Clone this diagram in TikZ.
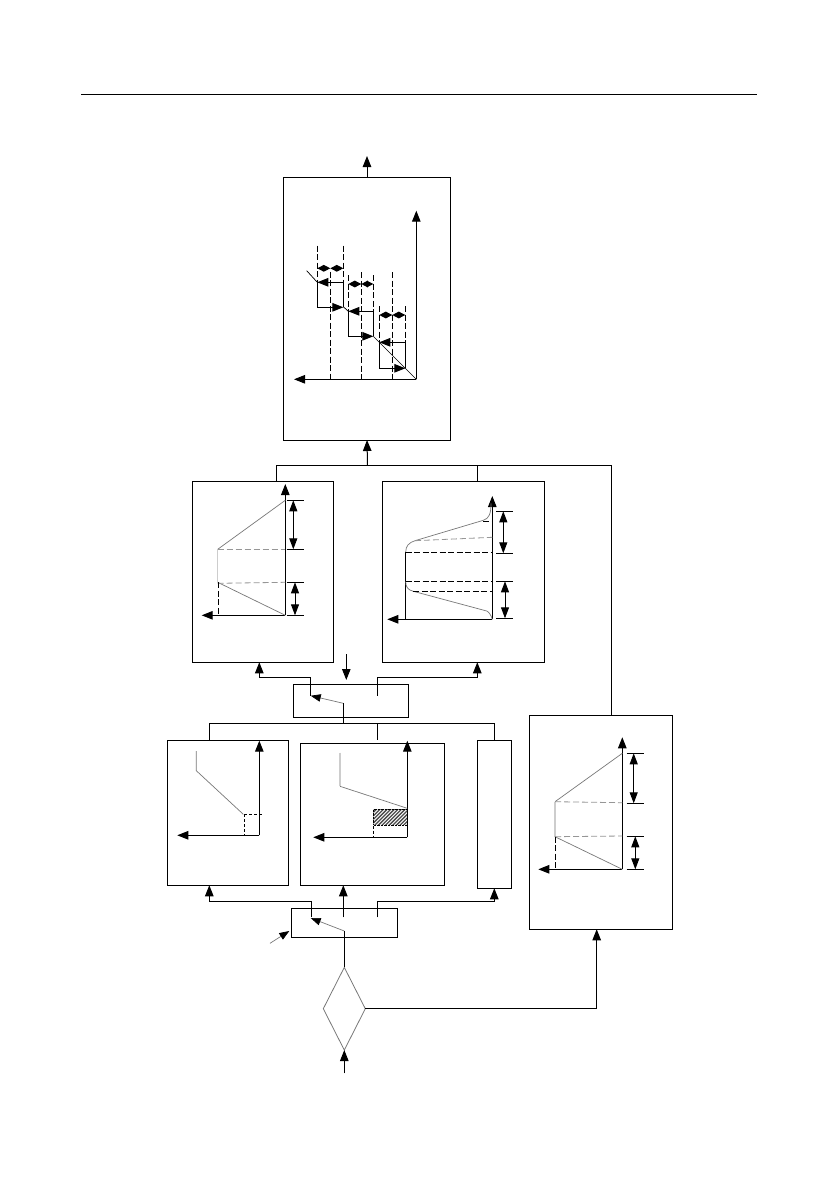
\documentclass[tikz,border=0pt]{standalone}
\usepackage{tikz}
\usetikzlibrary{shapes.geometric, arrows.meta}
\definecolor{linegray}{RGB}{120,120,120}
\definecolor{palegray}{RGB}{205,205,205}
\definecolor{dashgray}{RGB}{150,150,150}
\definecolor{hatchgray}{RGB}{75,75,75}
\tikzset{
  panelbox/.style={
    draw=black, fill=white, line width=1.0pt, rectangle,
    inner sep=0pt, outer sep=0pt, anchor=north west
  },
  gatebox/.style={
    draw=linegray, line width=0.8pt, diamond, aspect=0.5,
    inner sep=0pt, outer sep=0pt
  },
  flowarrow/.style={
    -{Triangle[length=11pt,width=8.5pt]},
    draw=black, line width=1.0pt
  },
  leverarrow/.style={
    -{Triangle[length=10pt,width=7.5pt,black]},
    draw=linegray, line width=0.7pt
  },
  dimarrow/.style={
    {Triangle[length=11pt,width=8pt]}-{Triangle[length=11pt,width=8pt]},
    draw=black, line width=1.0pt
  },
  stepdim/.style={
    {Triangle[length=6.5pt,width=6.5pt]}-{Triangle[length=6.5pt,width=6.5pt]},
    draw=black, line width=1.0pt
  },
  flowline/.style={draw=black, line width=1.0pt},
  curveline/.style={draw=linegray, line width=0.7pt},
  paleline/.style={draw=palegray, line width=1.1pt},
  guidedash/.style={draw=black, line width=0.9pt, dash pattern=on 6pt off 2.5pt},
  shortdash/.style={draw=black, line width=0.9pt, dash pattern=on 3pt off 2pt},
  fadedash/.style={draw=dashgray, line width=0.8pt, dash pattern=on 6pt off 3pt},
  tickline/.style={draw=black, line width=0.9pt},
}
\begin{document}
\begin{tikzpicture}[x=1pt, y=-1pt]

  \useasboundingbox (0,0) rectangle (839,1191);

  %% Page rule
  \coordinate (ruleL) at (81,94);
  \coordinate (ruleR) at (757,94);
  \draw[black, line width=1pt] (ruleL) -- (ruleR);

  %% Boxes
  \node[panelbox, minimum width=167pt, minimum height=262.5pt] (speedbox) at (283.5,177.5) {};
  \node[panelbox, minimum width=141pt, minimum height=181pt] (linbox) at (192.3,481.3) {};
  \node[panelbox, minimum width=162.4pt, minimum height=181pt] (scurvebox) at (382.3,481.3) {};
  \node[panelbox, minimum width=115.4pt, minimum height=33pt] (selupper) at (293.3,684.3) {};
  \node[panelbox, minimum width=121pt, minimum height=145pt] (rampbox) at (167.3,740.3) {};
  \node[panelbox, minimum width=144pt, minimum height=142pt] (hatchbox) at (300.3,743.3) {};
  \node[panelbox, minimum width=34pt, minimum height=148pt] (narrowbox) at (477.3,740.3) {};
  \node[panelbox, minimum width=106pt, minimum height=29pt] (sellower) at (291.3,908.3) {};
  \node[panelbox, minimum width=143.4pt, minimum height=214pt] (lateralbox) at (529.3,715.3) {};
  \node[gatebox, minimum width=42pt, minimum height=82.7pt] (gate) at (344.3,1008.7) {};

  %% Connectors at the top
  \coordinate (outtop) at (367,156);
  \coordinate (busmid) at (367.5,465.3);
  \coordinate (busL) at (276.7,465.3);
  \coordinate (busC) at (477.7,465.3);
  \coordinate (busR) at (611.3,465.3);
  \draw[flowarrow] (speedbox.north) -- (outtop);
  \draw[flowarrow] (busmid) -- (speedbox.south);
  \draw[flowline] (busL |- linbox.north) -- (busL) -- (busR) -- (busR |- lateralbox.north);
  \draw[flowline] (busC) -- (busC |- scurvebox.north);

  %% Upper selector
  \coordinate (cmdupper) at (346.3,654);
  \coordinate (cmdupperend) at (346.3,680);
  \coordinate (upL) at (310.7,695.7);
  \coordinate (upR) at (377.3,695.7);
  \coordinate (upLturn) at (310.7,677.3);
  \coordinate (upRturn) at (377.3,677.3);
  \coordinate (uptipL) at (259.3,677.3);
  \coordinate (uptipR) at (477.3,677.3);
  \coordinate (uppivot) at (343.3,703.3);
  \coordinate (bus2mid) at (343.3,723.3);
  \draw[flowarrow] (cmdupper) -- (cmdupperend);
  \draw[flowarrow] (upL) -- (upLturn) -- (uptipL) -- (uptipL |- linbox.south);
  \draw[flowarrow] (upR) -- (upRturn) -- (uptipR) -- (uptipR |- scurvebox.south);
  \draw[leverarrow] (uppivot) -- (upL);
  \draw[flowline] (uppivot) -- (bus2mid);

  %% Bus under upper selector
  \coordinate (bus2L) at (209.3,723.3);
  \coordinate (bus2C) at (377.3,723.3);
  \coordinate (bus2R) at (494.3,723.3);
  \draw[flowline] (bus2L |- rampbox.north) -- (bus2L) -- (bus2R) -- (bus2R |- narrowbox.north);
  \draw[flowline] (bus2C) -- ++(0,17);

  %% Lower selector
  \coordinate (lowL) at (311.7,917.3);
  \coordinate (lowC) at (343.3,917.3);
  \coordinate (lowR) at (377.3,917.3);
  \coordinate (lowLturn) at (311.7,901.7);
  \coordinate (lowRturn) at (377.3,901.7);
  \coordinate (lowtipL) at (209.3,901.7);
  \coordinate (lowtipR) at (494.3,901.7);
  \coordinate (lowpivot) at (344.3,931);
  \coordinate (lowarm) at (310.7,918);
  \coordinate (cmdlow) at (270,943.3);
  \coordinate (cmdlowend) at (289.3,931);
  \draw[flowarrow] (lowL) -- (lowLturn) -- (lowtipL) -- (lowtipL |- rampbox.south);
  \draw[flowarrow] (lowC) -- (lowC |- hatchbox.south);
  \draw[flowarrow] (lowR) -- (lowRturn) -- (lowtipR) -- (lowtipR |- narrowbox.south);
  \draw[leverarrow] (lowpivot) -- (lowarm);
  \draw[leverarrow] (cmdlow) -- (cmdlowend);
  \draw[flowline] (lowpivot) -- (gate.north);

  %% Gate
  \coordinate (infeed) at (344.3,1073.3);
  \coordinate (lattip) at (596.7,1008.7);
  \draw[flowarrow] (infeed) -- (gate.south);
  \draw[flowarrow] (gate.east) -- (lattip) -- (lattip |- lateralbox.south);

  %% Speed plot axes
  \coordinate (vo) at (416.3,379.3);
  \draw[flowarrow] (vo) -- (416.3,210.7);
  \draw[flowarrow] (vo) -- (294,379.3);
  % Descending line
  \draw[curveline, draw=black] (306.7,270.7) -- (317.3,282.3);
  \draw[curveline, draw=black] (343.3,306.7) -- (348.3,311.3);
  \draw[curveline, draw=black] (373.3,336.3) -- (379.3,342.3) -- (vo);
  % Step 1
  \draw[guidedash] (317.3,245.7) -- (317.3,282.3);
  \draw[guidedash] (343.3,245.7) -- (343.3,282.3);
  \draw[guidedash] (330.3,271.7) -- (330.3,379.3);
  \draw[stepdim] (317.3,268.3) -- (330.3,268.3);
  \draw[stepdim] (330.3,268.3) -- (343.3,268.3);
  \draw[flowline] (343.3,307.3) -- (343.3,282.3);
  \draw[flowarrow] (343.3,282.3) -- (317.3,282.3);
  \draw[flowarrow] (317.3,282.3) -- (317.3,307.3) -- (343.3,307.3);
  % Step 2
  \draw[guidedash] (348.3,275.3) -- (348.3,311.3);
  \draw[guidedash] (373.3,275.3) -- (373.3,311.3);
  \draw[guidedash] (361.3,272) -- (361.3,379.3);
  \draw[stepdim] (348.3,284) -- (361.3,284);
  \draw[stepdim] (361.3,284) -- (373.3,284);
  \draw[flowline] (373.3,336.3) -- (373.3,311.3);
  \draw[flowarrow] (373.3,311.3) -- (348.3,311.3);
  \draw[flowarrow] (348.3,311.3) -- (348.3,336.3) -- (373.3,336.3);
  % Step 3
  \draw[guidedash] (379.3,306) -- (379.3,342.3);
  \draw[guidedash] (405.3,306) -- (405.3,342.3);
  \draw[guidedash] (392.3,272) -- (392.3,379.3);
  \draw[stepdim] (379.3,315) -- (392.3,315);
  \draw[stepdim] (392.3,315) -- (405.3,315);
  \draw[flowline] (405.3,368.3) -- (405.3,342.3);
  \draw[flowarrow] (405.3,342.3) -- (379.3,342.3);
  \draw[flowarrow] (379.3,342.3) -- (379.3,368.3) -- (405.3,368.3);

  %% Linear profile
  \coordinate (lo) at (285.3,615.3);
  \draw[flowarrow] (lo) -- (285.3,484);
  \draw[flowarrow] (lo) -- (201.7,615.3);
  \draw[curveline] (285.3,500.3) -- (217.7,549.3);
  \draw[paleline] (217.7,549.3) -- (217.7,582.3);
  \draw[curveline] (217.7,582.3) -- (lo);
  \draw[fadedash] (217.7,549.3) -- (285.3,549.3);
  \draw[fadedash] (217.7,583.3) -- (285.3,582.3);
  \draw[guidedash] (218.3,582.3) -- (218.3,615.3);
  \draw[tickline] (286.7,500.3) -- (303.7,500.3);
  \draw[tickline] (286.7,549.3) -- (303.7,549.3);
  \draw[tickline] (286.7,582.3) -- (303.7,582.3);
  \draw[tickline] (286.7,615.3) -- (303.7,615.3);
  \draw[dimarrow] (293.3,500.3) -- (293.3,549.3);
  \draw[dimarrow] (295,582.3) -- (295,615.3);

  %% S-curve profile
  \coordinate (so) at (492.3,619.3);
  \draw[flowarrow] (so) -- (492.3,496);
  \draw[flowarrow] (so) -- (387.3,619.3);
  \draw[flowline] (405.7,619.3) -- (405.7,552);
  \draw[curveline] (491,503.3) .. controls (491,514) and (489,518.5) .. (483.3,520.3)
    -- (415,540.7) .. controls (409,542.5) and (405.7,546) .. (405.7,552);
  \draw[curveline] (405.7,581.7) .. controls (405.7,587) and (408,590) .. (413.3,591.3)
    -- (486.7,611) .. controls (489,612) and (491,615) .. (so);
  \draw[guidedash] (483.3,521.3) -- (492.3,521.3);
  \draw[fadedash] (415,540.7) -- (492.3,537.3);
  \draw[guidedash] (405.7,552.3) -- (492.3,552.3);
  \draw[guidedash] (405.7,581.3) -- (492.3,581.3);
  \draw[guidedash] (413.3,591.3) -- (492.3,591.3);
  \draw[tickline] (496.3,511.3) -- (513,511.3);
  \draw[tickline] (496.3,553.3) -- (513,553.3);
  \draw[tickline] (496.3,581.3) -- (513,581.3);
  \draw[tickline] (496.3,618.3) -- (513,618.3);
  \draw[dimarrow] (503.3,511.3) -- (503.3,553.3);
  \draw[dimarrow] (505,581.3) -- (505,618.3);

  %% Ramp plot
  \coordinate (ro) at (259.3,835.3);
  \draw[flowarrow] (ro) -- (259.3,740.7);
  \draw[flowarrow] (ro) -- (177.3,835.3);
  \draw[curveline] (196.3,751) -- (196.3,770.7) -- (243.3,814.3);
  \draw[shortdash] (244.3,814.3) -- (244.3,835.3);
  \draw[shortdash] (244.3,814.3) -- (261.7,814.3);

  %% Hatched plot
  \coordinate (ho) at (407.3,837.3);
  \begin{scope}
    \clip (373.3,809) rectangle (407.3,824.7);
    \foreach \hx in {0,3.6,...,54}
      \draw[hatchgray, line width=1.3pt] (\hx+356,826) -- (\hx+374,808);
  \end{scope}
  \node[draw=black, line width=0.9pt, dash pattern=on 2.5pt off 1pt,
    minimum width=34pt, minimum height=15.7pt, inner sep=0pt, anchor=north west] (hatchrect) at (373.3,809) {};
  \draw[flowarrow] (ho) -- (407.3,740.7);
  \draw[flowarrow] (ho) -- (313.3,837.3);
  \draw[paleline] (340,752.7) -- (340,786.3);
  \draw[curveline] (340,786.3) -- (407.3,808.3);
  \draw[shortdash] (hatchrect.south west) -- (373.3,837.3);

  %% Lateral plot
  \coordinate (po) at (622.3,869.3);
  \draw[flowarrow] (po) -- (622.3,737.3);
  \draw[flowarrow] (po) -- (538.3,869.3);
  \draw[curveline] (622.3,753.3) -- (555,801.7);
  \draw[paleline] (555,801.7) -- (555,836.7);
  \draw[curveline] (555,836.7) -- (po);
  \draw[fadedash] (555,801.7) -- (622.3,802.7);
  \draw[fadedash] (555,836.7) -- (622.3,836);
  \draw[guidedash] (555.3,836.7) -- (555.3,869.3);
  \draw[tickline] (626.7,753.3) -- (643.7,753.3);
  \draw[tickline] (626.7,803.3) -- (643.7,803.3);
  \draw[tickline] (626.7,836.3) -- (643.7,836.3);
  \draw[tickline] (626.7,869.3) -- (643.7,869.3);
  \draw[dimarrow] (633.7,753.3) -- (633.7,803.3);
  \draw[dimarrow] (635.3,836.3) -- (635.3,869.3);

\end{tikzpicture}
\end{document}
